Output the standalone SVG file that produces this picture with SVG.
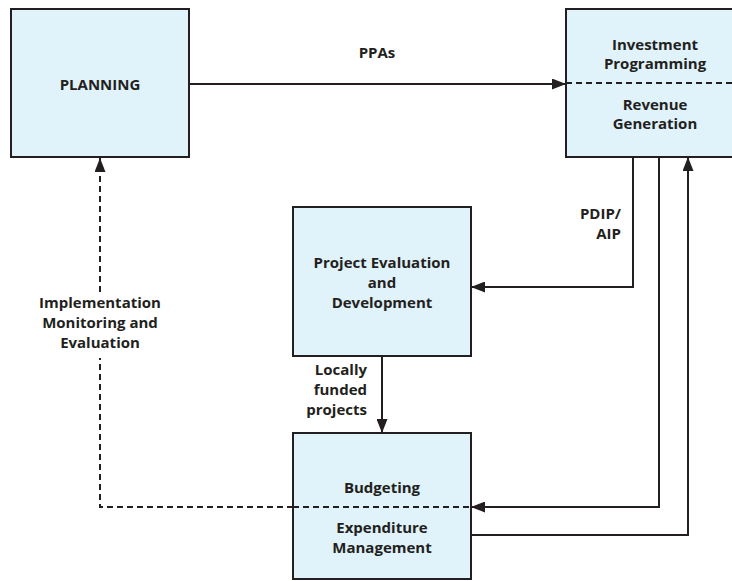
<svg xmlns="http://www.w3.org/2000/svg" width="732" height="581" viewBox="0 0 732 581">
  <style>
    .box { fill: #e0f2fa; stroke: #231f20; stroke-width: 2; }
    .line { fill: none; stroke: #231f20; stroke-width: 2; }
    .dash { fill: none; stroke: #231f20; stroke-width: 2; stroke-dasharray: 6 4; }
    text { font-family: "Open Sans", "Liberation Sans", sans-serif; font-weight: 700; font-size: 15px; fill: #231f20; }
    .c { text-anchor: middle; }
    .r { text-anchor: end; }
  </style>
  <defs>
    <marker id="arrow" markerUnits="userSpaceOnUse" markerWidth="14" markerHeight="11" refX="14" refY="5.5" orient="auto">
      <path d="M0,0 L14,5.5 L0,11 z" fill="#231f20"/>
    </marker>
  </defs>

  <rect width="732" height="581" fill="#ffffff"/>

  <g id="planning">
    <rect class="box" x="11" y="9" width="178" height="148"/>
    <text class="c" x="100" y="90">PLANNING</text>
  </g>

  <g id="investment">
    <rect class="box" x="566" y="9" width="172" height="148"/>
    <line class="dash" x1="566" y1="83" x2="732" y2="83"/>
    <text class="c" x="655" y="50">Investment</text>
    <text class="c" x="655" y="69">Programming</text>
    <text class="c" x="655" y="110">Revenue</text>
    <text class="c" x="655" y="129">Generation</text>
  </g>

  <g id="project-evaluation">
    <rect class="box" x="293" y="207" width="178" height="149"/>
    <text class="c" x="382" y="268">Project Evaluation</text>
    <text class="c" x="382" y="288">and</text>
    <text class="c" x="382" y="308">Development</text>
  </g>

  <g id="budgeting">
    <rect class="box" x="293" y="433" width="178" height="146"/>
    <line class="dash" x1="293" y1="507" x2="471" y2="507"/>
    <text class="c" x="382" y="493">Budgeting</text>
    <text class="c" x="382" y="533">Expenditure</text>
    <text class="c" x="382" y="553">Management</text>
  </g>

  <g id="connectors">
    <!-- PPAs -->
    <line class="line" x1="189" y1="84" x2="566" y2="84" marker-end="url(#arrow)"/>
    <text class="c" x="377" y="58">PPAs</text>
    <!-- PDIP/AIP -->
    <path class="line" d="M633,157 V287 H471" marker-end="url(#arrow)"/>
    <text class="r" x="621" y="219">PDIP/</text>
    <text class="r" x="621" y="239">AIP</text>
    <!-- Investment programme to budgeting -->
    <path class="line" d="M659,157 V507 H471" marker-end="url(#arrow)"/>
    <!-- Expenditure feedback to revenue generation -->
    <path class="line" d="M471,535 H688 V157" marker-end="url(#arrow)"/>
    <!-- Locally funded projects -->
    <line class="line" x1="382" y1="356" x2="382" y2="433" marker-end="url(#arrow)"/>
    <text class="r" x="367" y="375">Locally</text>
    <text class="r" x="367" y="395">funded</text>
    <text class="r" x="367" y="415">projects</text>
    <!-- Implementation monitoring and evaluation -->
    <path class="dash" d="M293,507 H100 V358"/>
    <path class="dash" d="M100,292 V158" marker-end="url(#arrow)"/>
    <text class="c" x="100" y="308">Implementation</text>
    <text class="c" x="100" y="328">Monitoring and</text>
    <text class="c" x="100" y="348">Evaluation</text>
  </g>
</svg>
